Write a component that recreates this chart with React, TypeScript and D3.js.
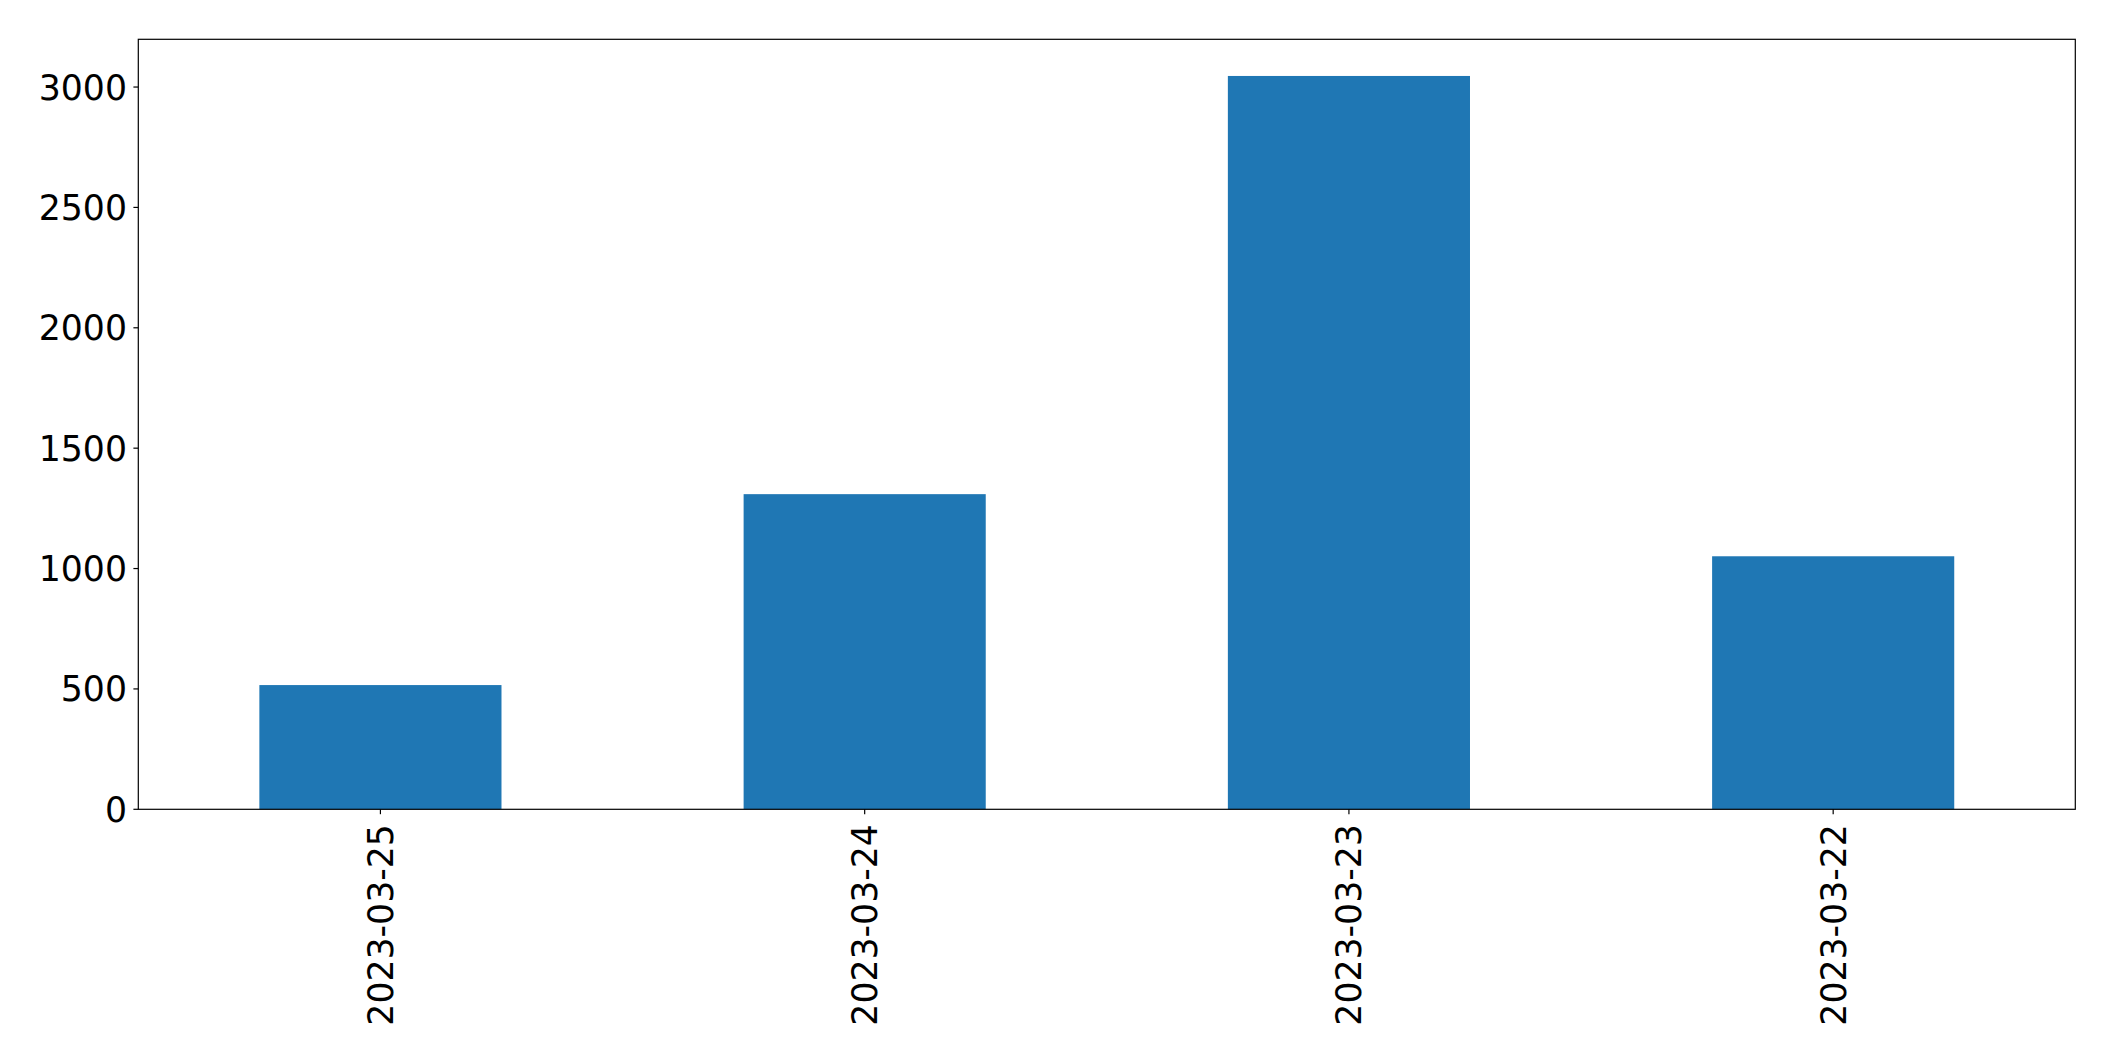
import React, { useEffect } from "react";
import * as d3 from "d3";

const categories: string[] = ["2023-03-25", "2023-03-24", "2023-03-23", "2023-03-22"];
const values: number[] = [516, 1309, 3046, 1051];
const yTicks: number[] = [0, 500, 1000, 1500, 2000, 2500, 3000];

const W = 2115;
const H = 1061;
const left = 138.3;
const right = 2075.3;
const top = 39.3;
const bottom = 809.3;
const FONT = "'DejaVu Sans', sans-serif";
const FS = 34.7;

export default function App() {
  useEffect(() => {
    document.body.style.margin = "0";
  }, []);

  const x = d3
    .scaleBand<string>()
    .domain(categories)
    .range([left, right])
    .paddingInner(0.5)
    .paddingOuter(0.25);

  const yMax = (d3.max(values) as number) * 1.05;
  const y = d3.scaleLinear().domain([0, yMax]).range([bottom, top]);

  const tickLen = 4.9;
  const pad = 4.9;

  return (
    <svg
      width={W}
      height={H}
      style={{ position: "absolute", left: 0, top: 0, background: "#fff" }}
      fontFamily={FONT}
    >
      <rect x={0} y={0} width={W} height={H} fill="#fff" />
      {categories.map((c, i) => (
        <rect
          key={c}
          x={x(c)}
          y={y(values[i])}
          width={x.bandwidth()}
          height={y(0) - y(values[i])}
          fill="#1f77b4"
        />
      ))}
      <rect
        x={left}
        y={top}
        width={right - left}
        height={bottom - top}
        fill="none"
        stroke="#000"
        strokeWidth={1.2}
      />
      {yTicks.map((t) => (
        <g key={t}>
          <line x1={left - tickLen} x2={left} y1={y(t)} y2={y(t)} stroke="#000" strokeWidth={1.2} />
          <text
            x={left - tickLen - pad - 1.5}
            y={y(t)}
            dy="0.36em"
            textAnchor="end"
            fontSize={FS}
            fill="#000"
          >
            {t}
          </text>
        </g>
      ))}
      {categories.map((c) => {
        const cx = (x(c) as number) + x.bandwidth() / 2;
        return (
          <g key={c}>
            <line x1={cx} x2={cx} y1={bottom} y2={bottom + tickLen} stroke="#000" strokeWidth={1.2} />
            <text
              transform={`translate(${cx},${bottom + tickLen + pad + 5}) rotate(-90)`}
              dy="0.36em"
              textAnchor="end"
              fontSize={FS}
              fill="#000"
            >
              {c}
            </text>
          </g>
        );
      })}
    </svg>
  );
}
